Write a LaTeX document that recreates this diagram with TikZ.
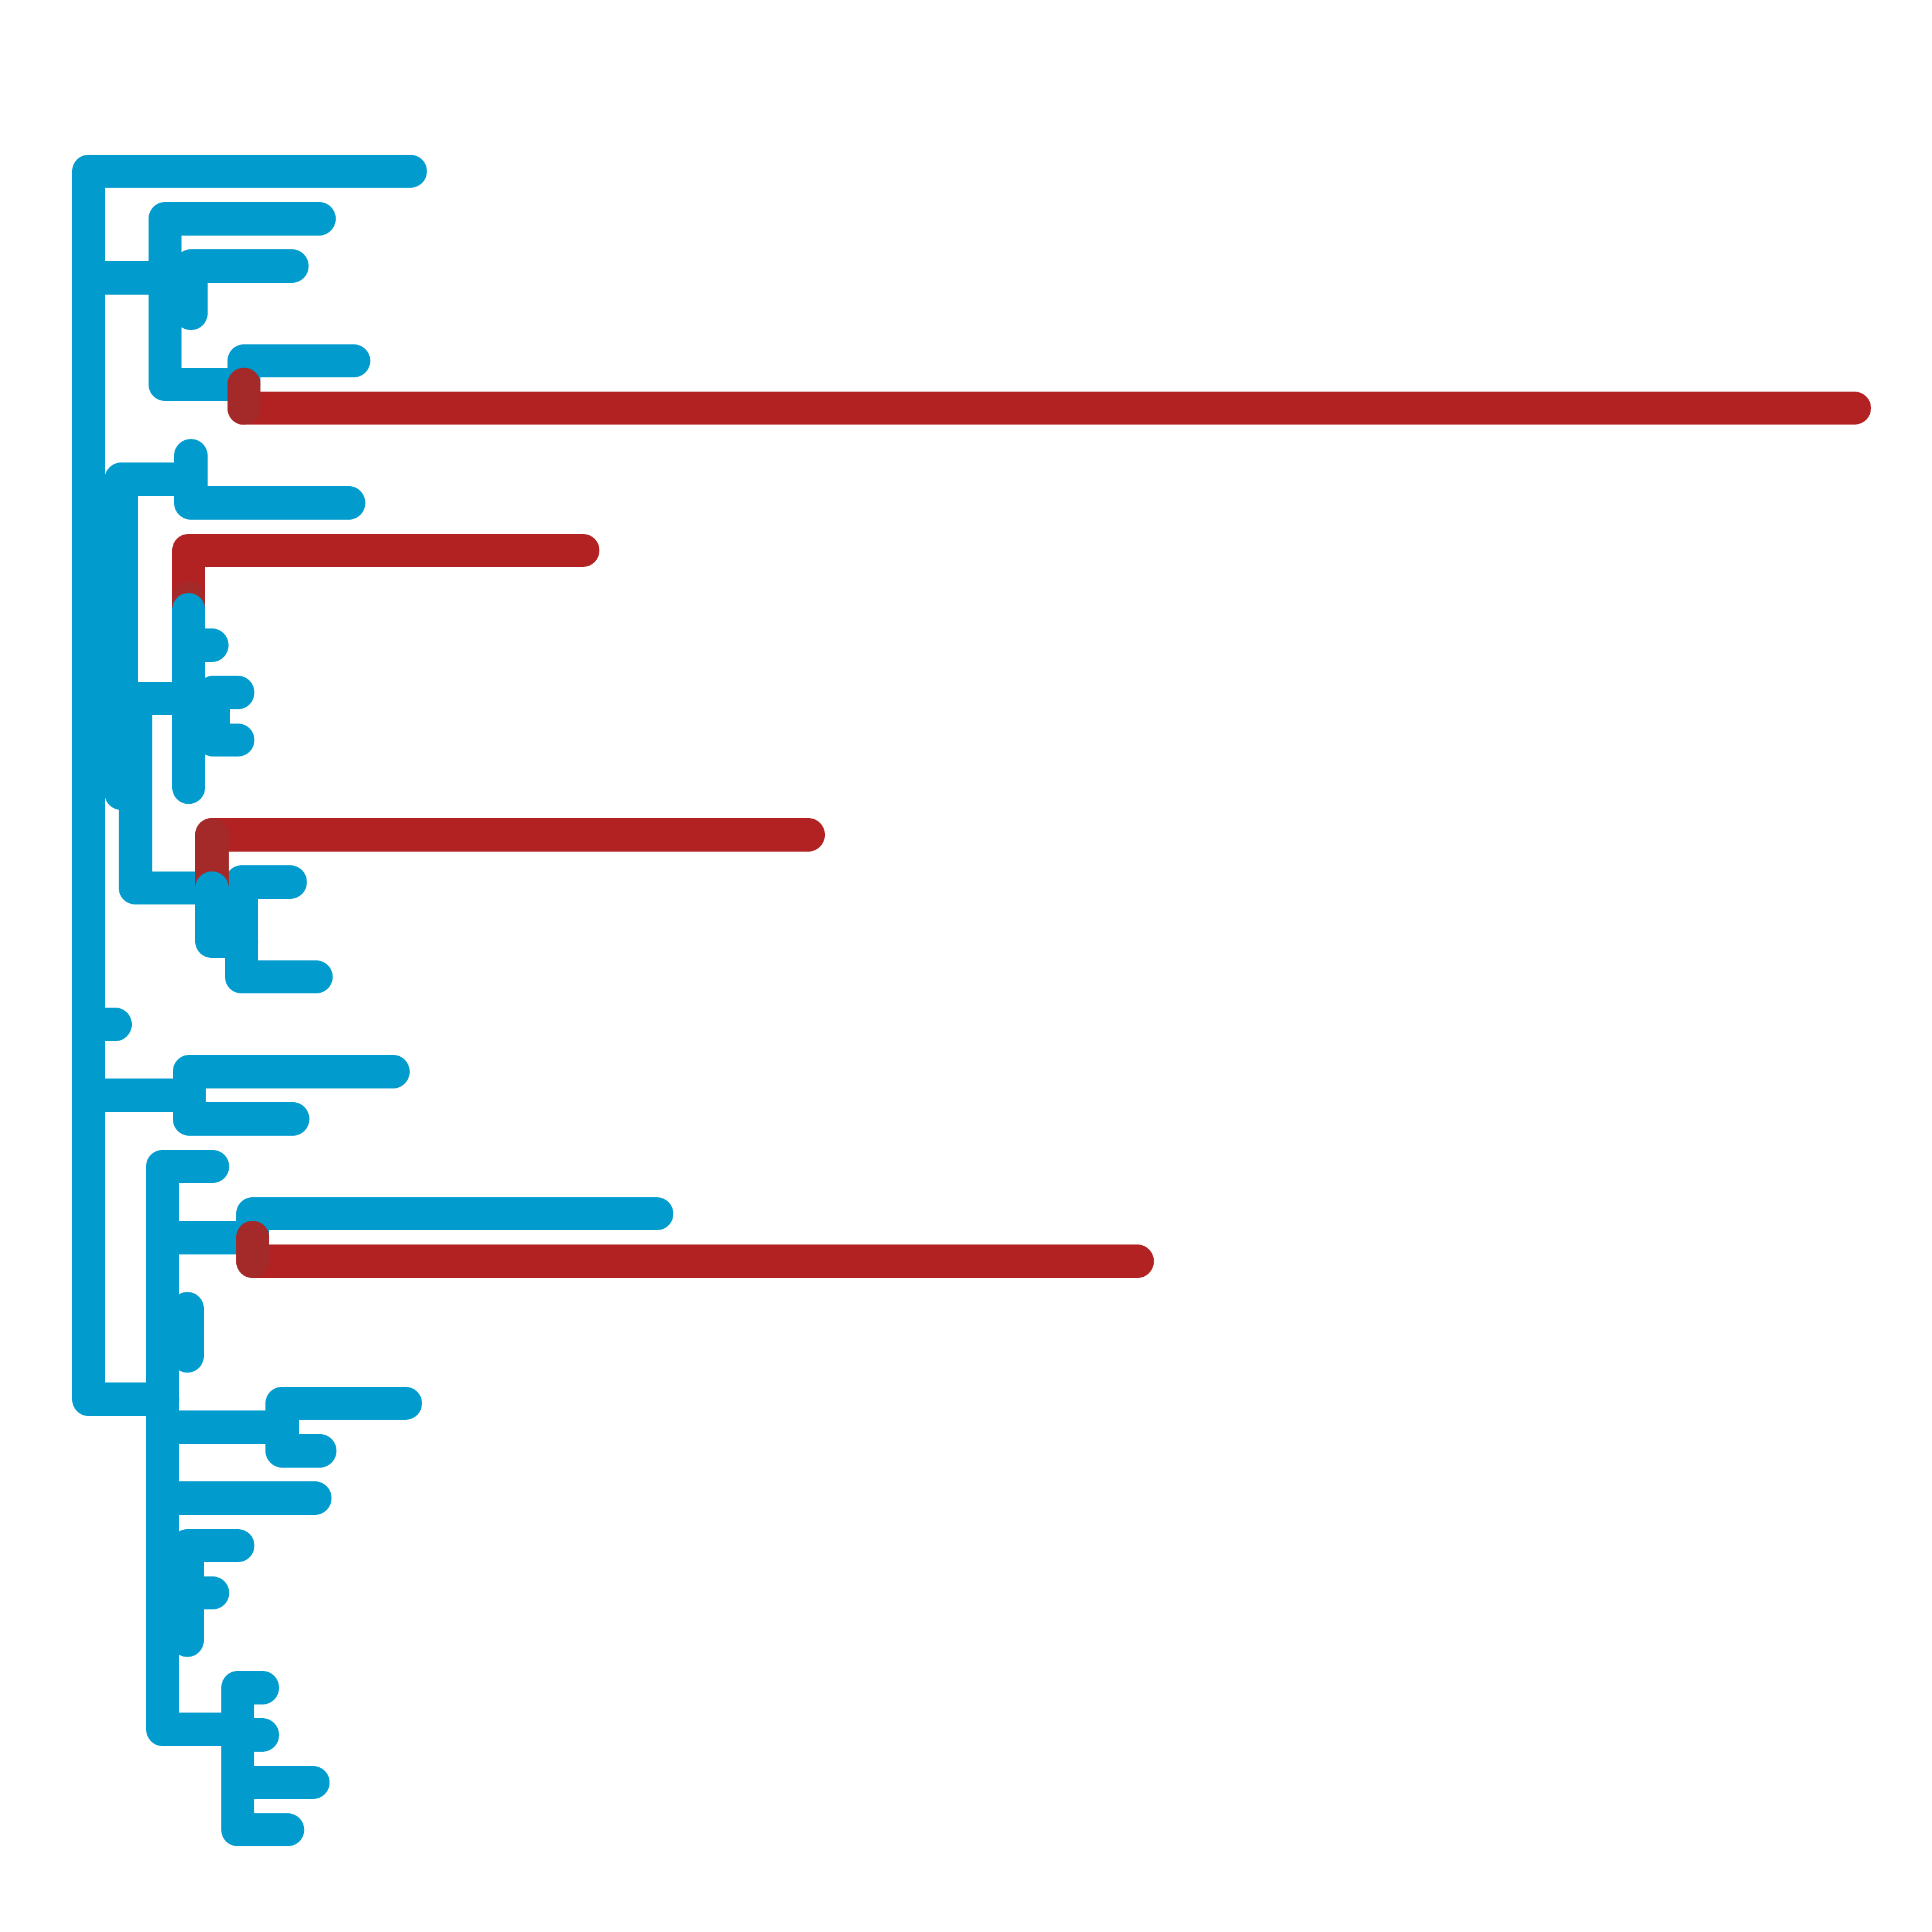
\documentclass[tikz,border=0pt]{standalone}
\usepackage{tikz}
\definecolor{treeblue}{RGB}{1,155,205}
\definecolor{treered}{RGB}{178,34,34}
\definecolor{treedark}{RGB}{164,42,42}

\begin{document}
\begin{tikzpicture}[x=0.1mm,y=-0.1mm,edge/.style={line width=2.7mm,line cap=round,line join=round,draw=treeblue},hot/.style={edge,draw=treered},joint/.style={edge,draw=treedark}]
\useasboundingbox (0,0) rectangle (1568,1568);
\foreach \k/\x in {0/333,1/259,2/237,3/155,4/287,5/1505,6/155,7/283,8/473,9/153,10/172,11/193,12/193,13/153,14/656,15/235.6,17/256.5,18/93.5,19/319,20/237.6,21/172.5,22/533,23/923,24/152,25/152,26/329,27/259.6,28/255.6,29/193,30/172.5,31/152,32/213,33/213,34/254,35/233.4}{\coordinate (l\k) at (\x,{139+38.46*\k});}
\coordinate (root) at (72,516.4);\coordinate (b) at (134,225.6);\coordinate (bx) at (134,273.6);\coordinate (c) at (155,235.2);\coordinate (d) at (198,312);
\coordinate (e) at (155,389);\coordinate (f) at (98.5,516.4);\coordinate (g) at (110,643.8);\coordinate (i) at (153,566.9);\coordinate (h) at (153,494.8);
\coordinate (h2) at (153,542.9);\coordinate (h3) at (153,504.4);\coordinate (j) at (173,581.3);\coordinate (l) at (172,720.7);\coordinate (m) at (196,764);
\coordinate (m1) at (196,735.2);\coordinate (n) at (153.6,889);\coordinate (p) at (132,1135.7);\coordinate (q) at (205,1004.4);\coordinate (r) at (152,1081.3);
\coordinate (s) at (229,1158.2);\coordinate (t) at (152,1292.8);\coordinate (u) at (193,1403.4);\coordinate (u2) at (193,1437);\coordinate (u3) at (193,1465.9);
\foreach \a/\z in {root/l0,root/b,root/f,root/l18,root/n,root/p,b/l1,b/bx,bx/c,bx/d,c/l2,c/l3,d/l4,f/e,f/g,e/l6,e/l7,g/i,g/l,i/h,i/l13,h2/h3,h2/j,h3/l9,h3/l10,j/l11,j/l12,m/m1,m/l17,m1/l15,n/l19,n/l20,p/l21,p/q,p/r,p/s,p/l28,p/t,p/u,q/l22,r/l24,r/l25,s/l26,s/l27,t/l29,t/l30,t/l31,u/l32,u/u2,u2/l33,u2/u3,u3/l34,u3/l35}{\draw[edge] (\a) |- (\z);}
\foreach \a/\z in {d/l5,h/l8,l/l14,q/l23}{\draw[hot] (\a) |- (\z);}
\draw[joint] (d) -- (d |- l5);\draw[joint] (l) -- (l |- l14);\draw[joint] (q) -- (q |- l23);\draw[joint] (l9) -- (h);
\draw[edge] (h) |- (h2);\draw[edge] (l) |- (m);
\end{tikzpicture}
\end{document}
